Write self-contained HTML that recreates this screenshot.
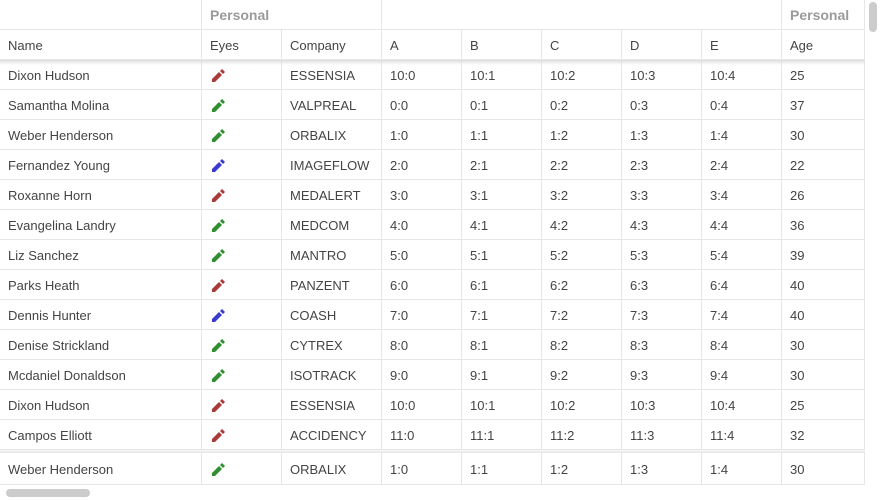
<!DOCTYPE html>
<html><head><meta charset="utf-8">
<style>
body{margin:0;width:880px;height:500px;background:#fff;overflow:hidden;font-family:"Liberation Sans",Arial,sans-serif;position:relative}
.c{position:absolute;box-sizing:border-box;border-right:1px solid #e6e6e6;border-bottom:1px solid #e6e6e6;font-size:13px;color:#444;padding-left:8px;white-space:nowrap;overflow:hidden}
.g{font-weight:bold;color:#9a9a9a;font-size:14px}
.sh{position:absolute;left:0;width:865px;height:5px;background:linear-gradient(#ddd,rgba(255,255,255,0))}
</style></head><body>
<div id="grid"></div>
<div class="sh" style="top:60px"></div>
<div class="sh" style="top:449px;height:4px;background:linear-gradient(rgba(255,255,255,0),#e4e4e4)"></div>
<div style="position:absolute;left:869px;top:2px;width:8px;height:30px;border-radius:4px;background:#ccc"></div>
<div style="position:absolute;left:6px;top:489px;width:84px;height:8px;border-radius:4px;background:#ccc"></div>
<script>
const cols=[["Name",0,202],["Eyes",202,80],["Company",282,100],["A",382,80],["B",462,80],["C",542,80],["D",622,80],["E",702,80],["Age",782,83]];
const names=["Dixon Hudson","Samantha Molina","Weber Henderson","Fernandez Young","Roxanne Horn","Evangelina Landry","Liz Sanchez","Parks Heath","Dennis Hunter","Denise Strickland","Mcdaniel Donaldson","Dixon Hudson","Campos Elliott","Weber Henderson"];
const eyes=["r","g","g","b","r","g","g","r","b","g","g","r","r","g"];
const companies=["ESSENSIA","VALPREAL","ORBALIX","IMAGEFLOW","MEDALERT","MEDCOM","MANTRO","PANZENT","COASH","CYTREX","ISOTRACK","ESSENSIA","ACCIDENCY","ORBALIX"];
const rowIdx=[10,0,1,2,3,4,5,6,7,8,9,10,11,1];
const ages=[25,37,30,22,26,36,39,40,40,30,30,25,32,30];
const colors={r:"#a83a3a",g:"#2f8f2f",b:"#3a3acf"};
const G=document.getElementById('grid');
function cell(x,y,w,h,html,cls,name,lh){const d=document.createElement('div');d.className='c '+(cls||'');
d.style.left=x+'px';d.style.top=y+'px';d.style.width=w+'px';d.style.height=h+'px';d.style.lineHeight=(lh||h+1)+'px';d.innerHTML=html;


G.appendChild(d);}
cell(0,0,202,30,"","g","group-header-empty");
cell(202,0,180,30,"Personal","g","group-header-personal");
cell(382,0,400,30,"","g","group-header-blank");
cell(782,0,83,30,"Personal","g","group-header-personal-age");
cols.forEach(c=>cell(c[1],30,c[2],30,c[0],"","column-header-"+c[0].toLowerCase()));
function pen(col){return `<svg width="16" height="16" viewBox="0 0 16 16" style="vertical-align:middle;position:relative;top:-1px"><path d="M9 4 L12 7 L5 14 L2 14 L2 11 Z" fill="${col}"/><path d="M10 3 L12 1 L15 4 L13 6 Z" fill="${col}"/></svg>`;}
names.forEach((n,i)=>{const y=i<13?60+i*30:452;const h=i<13?30:33;const r=rowIdx[i];const lh=i<13?31:35;
 cell(0,y,202,h,n,"","name-cell",lh);
 cell(202,y,80,h,pen(colors[eyes[i]]),"","eyes-cell",lh);
 cell(282,y,100,h,companies[i],"","company-cell",lh);
 ["A","B","C","D","E"].forEach((k,j)=>cell(382+j*80,y,80,h,r+":"+j,"","cell-"+k.toLowerCase(),lh));
 cell(782,y,83,h,ages[i],"","age-cell",lh);
});
</script>
</body></html>
